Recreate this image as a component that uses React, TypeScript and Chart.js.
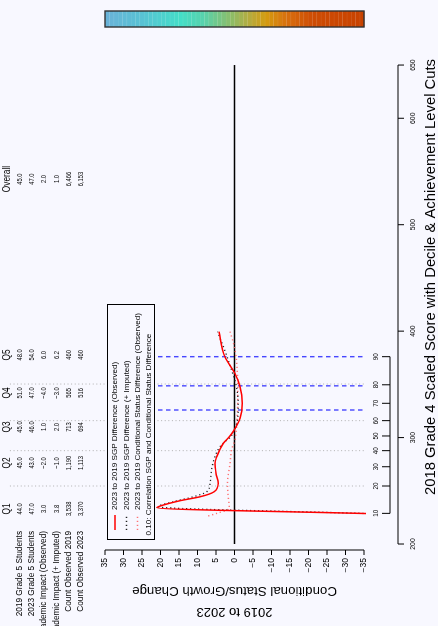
import React, { useEffect, useRef } from "react";
import { Chart, registerables } from "chart.js";

Chart.register(...registerables);

// ---------- data ----------
const scoreTicks = [200, 300, 400, 500, 600, 650];
const valueTicks = [35, 30, 25, 20, 15, 10, 5, 0, -5, -10, -15, -20, -25, -30, -35];
const percentileLabels = [10, 20, 30, 40, 50, 60, 70, 80, 90];
const percentileScores = [228.8, 254.5, 272.6, 287.7, 301.5, 315.9, 332.2, 349.6, 376.0];
const quintileBreaks = [254.5, 287.7, 315.9, 350.3];
const achievementCuts = [325.9, 348.6, 376.0];

const columnLabels = ["Q1", "Q2", "Q3", "Q4", "Q5", "Overall"];
const columnScores = [233.0, 276.1, 309.9, 341.9, 377.6, 542.9];
const rowLabels = [
  "2019 Grade 5 Students",
  "2023 Grade 5 Students",
  "Academic Impact (Observed)",
  "Academic Impact (+ Imputed)",
  "Count Observed 2019",
  "Count Observed 2023",
];
const students2019 = [44.0, 45.0, 45.0, 51.0, 48.0, 45.0];
const students2023 = [47.0, 43.0, 46.0, 47.0, 54.0, 47.0];
const impactObserved = [3.0, -2.0, 1.0, -4.0, 6.0, 2.0];
const impactImputed = [3.8, -1.0, 2.0, -3.0, 6.2, 1.0];
const count2019 = [3538, 1190, 713, 565, 460, 6466];
const count2023 = [3370, 1113, 694, 516, 460, 6153];

const sgpObsScores = [228.5, 234.1, 235.7, 240.7, 244.4, 249.1, 257.0, 266.4, 275.8, 282.0, 294.6, 300.8, 307.1, 318.0, 332.2, 347.8, 360.4, 376.0, 399.5];
const sgpObsValues = [-37.0, 21.0, 20.1, 14.7, 9.3, 5.5, 4.4, 5.0, 5.3, 4.8, 3.0, 1.4, 0.1, -1.5, -2.1, -1.5, -0.1, 2.6, 4.2];

const sgpImpScores = [228.5, 235.0, 239.7, 244.4, 249.1, 257.0, 269.5, 282.0, 291.4, 297.7, 300.8, 313.4, 329.0, 341.6, 354.1, 363.5, 372.9, 385.4, 393.3, 399.5];
const sgpImpValues = [-37.0, 20.6, 16.5, 11.1, 7.5, 6.6, 6.2, 5.3, 3.9, 2.1, 1.0, -0.6, -1.0, -0.8, -0.1, 0.8, 1.7, 3.0, 3.9, 4.6];

const csObsScores = [226.3, 228.8, 233.5, 244.4, 257.0, 275.8, 288.3, 297.7, 313.7, 338.4, 370.1, 385.4, 399.5];
const csObsValues = [7.1, 4.8, 1.4, 1.7, 1.9, 1.2, 0.8, -0.1, -0.6, -0.9, -0.6, 0.05, 1.2];

const legendLabels = [
  "2023 to 2019 SGP Difference (Observed)",
  "2023 to 2019 SGP Difference (+ Imputed)",
  "2023 to 2019 Conditional Status Difference (Observed)",
  "0.10: Correlation SGP and Conditional Status Difference",
];

const colorStops = ["#6AB2D8", "#58C2D4", "#44DEC8", "#58D2AC", "#8EBC66", "#BCA836", "#D49C10", "#D8700E", "#CE4C04", "#C84200"];
const colorStopPos = [0, 0.14, 0.29, 0.38, 0.49, 0.57, 0.62, 0.7, 0.8, 1];

// ---------- layout ----------
const W = 626;
const H = 438;
const BG = "#F8F8FF";
const X_MIN = 122.96;
const X_MAX = 711.1;
const Y_MIN = -35.54;
const Y_MAX = 62.03;
const GRID_TOP = 60.7;
const CUT_TOP = 20.7;
const FONT = '"Liberation Sans", Arial, Helvetica, sans-serif';

const pts = (xs: number[], ys: number[]) => xs.map((x, i) => ({ x, y: ys[i] }));
const fmt1 = (v: number) => (v < 0 ? "\u2212" : "") + Math.abs(v).toFixed(1);
const fmtCount = (v: number) => v.toLocaleString("en-US");
const fmtTick = (v: number) => (v < 0 ? "\u2212" : "") + Math.abs(v);

function txt(
  ctx: CanvasRenderingContext2D,
  s: string,
  x: number,
  y: number,
  size: number,
  align: CanvasTextAlign,
  sx = 1,
  rot = 0
) {
  ctx.save();
  ctx.translate(x, y);
  if (rot) ctx.rotate(rot);
  ctx.scale(sx, 1);
  ctx.font = `${size}px ${FONT}`;
  ctx.fillStyle = "#000";
  ctx.textAlign = align;
  ctx.textBaseline = "middle";
  ctx.fillText(s, 0, 0);
  ctx.restore();
}

function lerpColor(a: string, b: string, t: number) {
  const pa = [1, 3, 5].map((i) => parseInt(a.slice(i, i + 2), 16));
  const pb = [1, 3, 5].map((i) => parseInt(b.slice(i, i + 2), 16));
  const c = pa.map((v, i) => Math.round(v + (pb[i] - v) * t));
  return `rgb(${c[0]},${c[1]},${c[2]})`;
}
function colorAt(t: number) {
  for (let i = 0; i < colorStopPos.length - 1; i++) {
    if (t <= colorStopPos[i + 1]) {
      const f = (t - colorStopPos[i]) / (colorStopPos[i + 1] - colorStopPos[i]);
      return lerpColor(colorStops[i], colorStops[i + 1], f);
    }
  }
  return colorStops[colorStops.length - 1];
}

const bgPlugin = {
  id: "bg",
  beforeDraw(chart: any) {
    const ctx = chart.ctx as CanvasRenderingContext2D;
    ctx.save();
    ctx.fillStyle = BG;
    ctx.fillRect(0, 0, W, H);
    ctx.restore();
  },
};

const overlayPlugin = {
  id: "overlay",
  afterDraw(chart: any) {
    const ctx = chart.ctx as CanvasRenderingContext2D;
    const xs = chart.scales.x;
    const ys = chart.scales.y;
    const px = (v: number) => xs.getPixelForValue(v);
    const py = (v: number) => ys.getPixelForValue(v);

    ctx.save();
    ctx.strokeStyle = "#000";
    ctx.lineWidth = 1;

    // ---- y axis ----
    const axX = 76;
    ctx.beginPath();
    ctx.moveTo(axX, py(35));
    ctx.lineTo(axX, py(-35));
    valueTicks.forEach((v) => {
      ctx.moveTo(axX, py(v));
      ctx.lineTo(axX - 5, py(v));
    });
    ctx.stroke();
    valueTicks.forEach((v) => txt(ctx, fmtTick(v), axX - 8, py(v), 8.5, "right"));
    const yMid = (py(35) + py(-35)) / 2;
    txt(ctx, "Conditional Status/Growth Change", 35, yMid, 13.3, "center", 1, -Math.PI / 2);
    txt(ctx, "2019 to 2023", 14, yMid, 13, "center", 1, -Math.PI / 2);

    // ---- score axis ----
    const sY = 398;
    ctx.beginPath();
    ctx.moveTo(px(scoreTicks[0]), sY);
    ctx.lineTo(px(scoreTicks[scoreTicks.length - 1]), sY);
    scoreTicks.forEach((s) => {
      ctx.moveTo(px(s), sY);
      ctx.lineTo(px(s), sY + 6);
    });
    ctx.stroke();
    scoreTicks.forEach((s) => txt(ctx, String(s), px(s), 413, 8, "center", 0.85));
    txt(ctx, "2018 Grade 4 Scaled Score with Decile & Achievement Level Cuts", 349, 431, 14.8, "center");

    // ---- percentile axis ----
    const pY = 390;
    ctx.beginPath();
    ctx.moveTo(px(percentileScores[0]), pY);
    ctx.lineTo(px(percentileScores[percentileScores.length - 1]), pY);
    percentileScores.forEach((s) => {
      ctx.moveTo(px(s), pY);
      ctx.lineTo(px(s), pY - 8);
    });
    ctx.stroke();
    percentileScores.forEach((s, i) => txt(ctx, String(percentileLabels[i]), px(s), 376, 7, "center", 0.9));

    // ---- table ----
    columnLabels.forEach((c, i) => txt(ctx, c, px(columnScores[i]), 7, 11.5, "center", 0.72));
    const rowY = [20, 32, 44, 56.5, 68.5, 80.5];
    const rows = [
      students2019.map(fmt1),
      students2023.map(fmt1),
      impactObserved.map(fmt1),
      impactImputed.map(fmt1),
      count2019.map(fmtCount),
      count2023.map(fmtCount),
    ];
    rowLabels.forEach((l, r) => {
      txt(ctx, l, 95, rowY[r], 8.5, "right", 0.97);
      rows[r].forEach((v, c) => txt(ctx, v, px(columnScores[c]), rowY[r], 8, "center", 0.72));
    });

    // ---- legend ----
    const lx0 = 86, ly0 = 107, lx1 = 322, ly1 = 155;
    ctx.fillStyle = BG;
    ctx.fillRect(lx0, ly0, lx1 - lx0, ly1 - ly0);
    ctx.strokeStyle = "#000";
    ctx.lineWidth = 1;
    ctx.strokeRect(lx0 + 0.5, ly0 + 0.5, lx1 - lx0 - 1, ly1 - ly0 - 1);
    const legY = [115, 126.5, 137.5, 148.5];
    const symStyles = [
      { c: "#FF0000", d: [] as number[], w: 1.5 },
      { c: "#222222", d: [1.2, 2.8], w: 1.3 },
      { c: "rgba(255,90,90,0.85)", d: [1.2, 2.8], w: 1.5 },
    ];
    symStyles.forEach((s, i) => {
      ctx.beginPath();
      ctx.strokeStyle = s.c;
      ctx.lineWidth = s.w;
      ctx.setLineDash(s.d);
      ctx.moveTo(96, legY[i]);
      ctx.lineTo(111, legY[i]);
      ctx.stroke();
    });
    ctx.setLineDash([]);
    legendLabels.forEach((l, i) => txt(ctx, l, i < 3 ? 116 : 90.5, legY[i], 8.1, "left"));

    // ---- color bar ----
    const cbX0 = 599, cbX1 = 615;
    const cbY0 = py(35), cbY1 = py(-35);
    const nSeg = 60;
    const segH = (cbY1 - cbY0) / nSeg;
    for (let k = 0; k < nSeg; k++) {
      ctx.fillStyle = colorAt((k + 0.5) / nSeg);
      ctx.fillRect(cbX0, cbY0 + k * segH, cbX1 - cbX0, segH + 0.3);
      ctx.fillStyle = "rgba(255,255,255,0.12)";
      ctx.fillRect(cbX0, cbY0 + k * segH, cbX1 - cbX0, 0.6);
    }
    ctx.strokeStyle = "#333";
    ctx.lineWidth = 1.4;
    ctx.strokeRect(cbX0, cbY0, cbX1 - cbX0, cbY1 - cbY0);

    ctx.restore();
  },
};

export default function App() {
  const ref = useRef<HTMLCanvasElement | null>(null);

  useEffect(() => {
    const canvas = ref.current;
    if (!canvas) return;
    const line = (data: any[], color: string, width: number, dash: number[], order: number, smooth = false) => ({
      data,
      borderColor: color,
      backgroundColor: color,
      borderWidth: width,
      borderDash: dash,
      pointRadius: 0,
      showLine: true,
      fill: false,
      order,
      cubicInterpolationMode: smooth ? "monotone" : "default",
      tension: 0,
    });
    const datasets: any[] = [];
    quintileBreaks.forEach((s) =>
      datasets.push(line([{ x: s, y: GRID_TOP }, { x: s, y: Y_MIN }], "#B0B0B0", 1, [1, 2.6], 10))
    );
    achievementCuts.forEach((s) =>
      datasets.push(line([{ x: s, y: CUT_TOP }, { x: s, y: Y_MIN }], "rgba(40,40,255,0.85)", 1.4, [4.5, 3.5], 9))
    );
    datasets.push(line([{ x: scoreTicks[0], y: 0 }, { x: scoreTicks[scoreTicks.length - 1], y: 0 }], "#000", 1.3, [], 8));
    datasets.push(line(pts(csObsScores, csObsValues), "rgba(255,90,90,0.85)", 1.5, [1.2, 2.8], 3, true));
    datasets.push(line(pts(sgpImpScores, sgpImpValues), "#222222", 1.3, [1.2, 2.8], 2, true));
    datasets.push(line(pts(sgpObsScores, sgpObsValues), "#FF0000", 1.5, [], 1, true));

    const chart = new Chart(canvas, {
      type: "scatter",
      data: { datasets },
      options: {
        responsive: false,
        maintainAspectRatio: false,
        animation: false,
        devicePixelRatio: 1,
        events: [],
        layout: { padding: { top: 5, bottom: H - 366, left: 0, right: 0 } },
        scales: {
          x: { type: "linear", min: X_MIN, max: X_MAX, display: false },
          y: { type: "linear", min: Y_MIN, max: Y_MAX, display: false },
        },
        plugins: { legend: { display: false }, tooltip: { enabled: false }, title: { display: false } },
      } as any,
      plugins: [bgPlugin, overlayPlugin],
    });
    return () => chart.destroy();
  }, []);

  return (
    <div
      style={{
        position: "fixed",
        left: 0,
        top: 0,
        width: 438,
        height: 626,
        overflow: "hidden",
        background: BG,
      }}
    >
      <div
        style={{
          position: "absolute",
          left: 0,
          top: 0,
          width: W,
          height: H,
          transformOrigin: "0 0",
          transform: `translate(0px, ${W}px) rotate(-90deg)`,
        }}
      >
        <canvas ref={ref} width={W} height={H} style={{ width: W, height: H, display: "block" }} />
      </div>
    </div>
  );
}
